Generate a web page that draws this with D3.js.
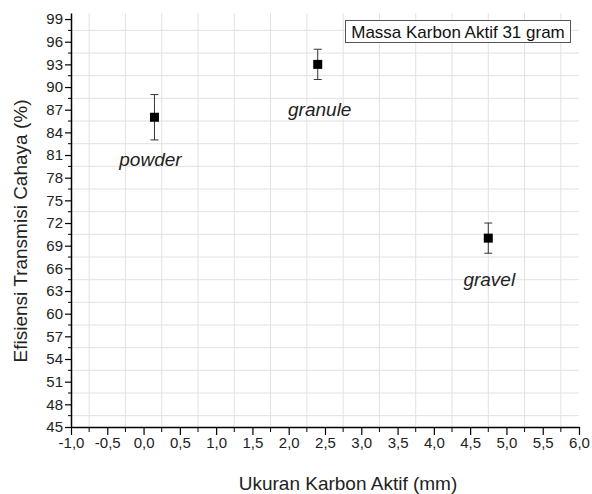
<!DOCTYPE html>
<html>
<head>
<meta charset="utf-8">
<script src="https://cdn.jsdelivr.net/npm/d3@7"></script>
<style>
  body { margin: 0; background: #fff; }
  text { font-family: "Liberation Sans", Arial, sans-serif; }
</style>
</head>
<body>
<div id="chart"></div>
<script>
// Data
const samples = ["powder", "granule", "gravel"];
const sizes = [0.15, 2.4, 4.75];          // mm
const efficiency = [86, 93, 70];          // %
const errors = [3, 2, 2];
const xTicks = [-1, -0.5, 0, 0.5, 1, 1.5, 2, 2.5, 3, 3.5, 4, 4.5, 5, 5.5, 6];
const yTicks = [45, 48, 51, 54, 57, 60, 63, 66, 69, 72, 75, 78, 81, 84, 87, 90, 93, 96, 99];
const legendText = "Massa Karbon Aktif 31 gram";

const width = 592, height = 494;
const margin = {left: 71, right: 13, top: 13, bottom: 67};

const svg = d3.select("#chart").append("svg")
    .attr("width", width)
    .attr("height", height);

const x = d3.scaleLinear().domain([-1, 6]).range([margin.left, width - margin.right]);
const y = d3.scaleLinear().domain([45, 99.8]).range([height - margin.bottom, margin.top]);

const fmt = d => d3.format(".1f")(d).replace(".", ",").replace("−", "-");

// grid on minor positions
const xMinor = xTicks.slice(0, -1).map(d => d + 0.25);
const yMinor = yTicks.map(d => d + 1.5).filter(d => d < 99.8);

const grid = svg.append("g").attr("stroke", "#e2e2e2").attr("stroke-width", 1);
grid.selectAll(".gx").data(xMinor).enter().append("line")
    .attr("x1", d => x(d)).attr("x2", d => x(d))
    .attr("y1", y(99.8)).attr("y2", y(45));
grid.selectAll(".gy").data(yMinor).enter().append("line")
    .attr("x1", x(-1)).attr("x2", x(6))
    .attr("y1", d => y(d)).attr("y2", d => y(d));

// axes
const xAxis = svg.append("g")
    .attr("transform", "translate(0," + y(45) + ")")
    .call(d3.axisBottom(x).tickValues(xTicks).tickFormat(fmt).tickSize(8).tickSizeOuter(0));
xAxis.append("g").selectAll("line").data(xMinor).enter().append("line")
    .attr("x1", d => x(d)).attr("x2", d => x(d))
    .attr("y1", 0).attr("y2", 5).attr("stroke", "#000");

const yAxis = svg.append("g")
    .attr("transform", "translate(" + x(-1) + ",0)")
    .call(d3.axisLeft(y).tickValues(yTicks).tickSize(6).tickSizeOuter(0));
yAxis.append("g").selectAll("line").data(yMinor).enter().append("line")
    .attr("x1", 0).attr("x2", -3)
    .attr("y1", d => y(d)).attr("y2", d => y(d)).attr("stroke", "#000");

svg.selectAll(".domain").attr("stroke", "#000").attr("stroke-width", 1.5);
svg.selectAll(".tick line").attr("stroke", "#000").attr("stroke-width", 1.2);
svg.selectAll(".tick text")
    .attr("font-size", 15)
    .attr("fill", "#222")
    .attr("font-family", "Liberation Sans, Arial, sans-serif");
xAxis.selectAll(".tick text").attr("y", 10).attr("dy", "0.71em");
yAxis.selectAll(".tick text").attr("x", -8);

// axis titles
svg.append("text")
    .attr("x", 348)
    .attr("y", 490)
    .attr("text-anchor", "middle")
    .attr("font-size", 19)
    .attr("fill", "#222")
    .text("Ukuran Karbon Aktif (mm)");

svg.append("text")
    .attr("transform", "translate(27,231)rotate(-90)")
    .attr("text-anchor", "middle")
    .attr("font-size", 19)
    .attr("fill", "#222")
    .text("Efisiensi Transmisi Cahaya (%)");

// error bars
const pts = samples.map((s, i) => ({name: s, x: sizes[i], y: efficiency[i], e: errors[i]}));
const eb = svg.append("g").attr("stroke", "#333").attr("stroke-width", 1);
eb.selectAll(".v").data(pts).enter().append("line")
    .attr("x1", d => x(d.x)).attr("x2", d => x(d.x))
    .attr("y1", d => y(d.y + d.e)).attr("y2", d => y(d.y - d.e));
eb.selectAll(".t").data(pts).enter().append("line")
    .attr("x1", d => x(d.x) - 4).attr("x2", d => x(d.x) + 4)
    .attr("y1", d => y(d.y + d.e)).attr("y2", d => y(d.y + d.e));
eb.selectAll(".b").data(pts).enter().append("line")
    .attr("x1", d => x(d.x) - 4).attr("x2", d => x(d.x) + 4)
    .attr("y1", d => y(d.y - d.e)).attr("y2", d => y(d.y - d.e));

// markers
svg.selectAll(".pt").data(pts).enter().append("rect")
    .attr("x", d => x(d.x) - 4.5)
    .attr("y", d => y(d.y) - 4.5)
    .attr("width", 9).attr("height", 9)
    .attr("fill", "#000");

// point labels
const labelPos = [{dx: -4, dy: 49}, {dx: 2, dy: 52}, {dx: 1, dy: 48}];
svg.selectAll(".lbl").data(pts).enter().append("text")
    .attr("x", (d, i) => x(d.x) + labelPos[i].dx)
    .attr("y", (d, i) => y(d.y) + labelPos[i].dy)
    .attr("text-anchor", "middle")
    .attr("font-size", 19)
    .attr("font-style", "italic")
    .attr("fill", "#222")
    .text(d => d.name);

// legend box
svg.append("rect")
    .attr("x", 345.5).attr("y", 20.5)
    .attr("width", 225).attr("height", 22)
    .attr("fill", "#fff")
    .attr("stroke", "#555");
svg.append("text")
    .attr("x", 458).attr("y", 37.5)
    .attr("text-anchor", "middle")
    .attr("font-size", 17)
    .attr("fill", "#111")
    .text(legendText);
</script>
</body>
</html>
